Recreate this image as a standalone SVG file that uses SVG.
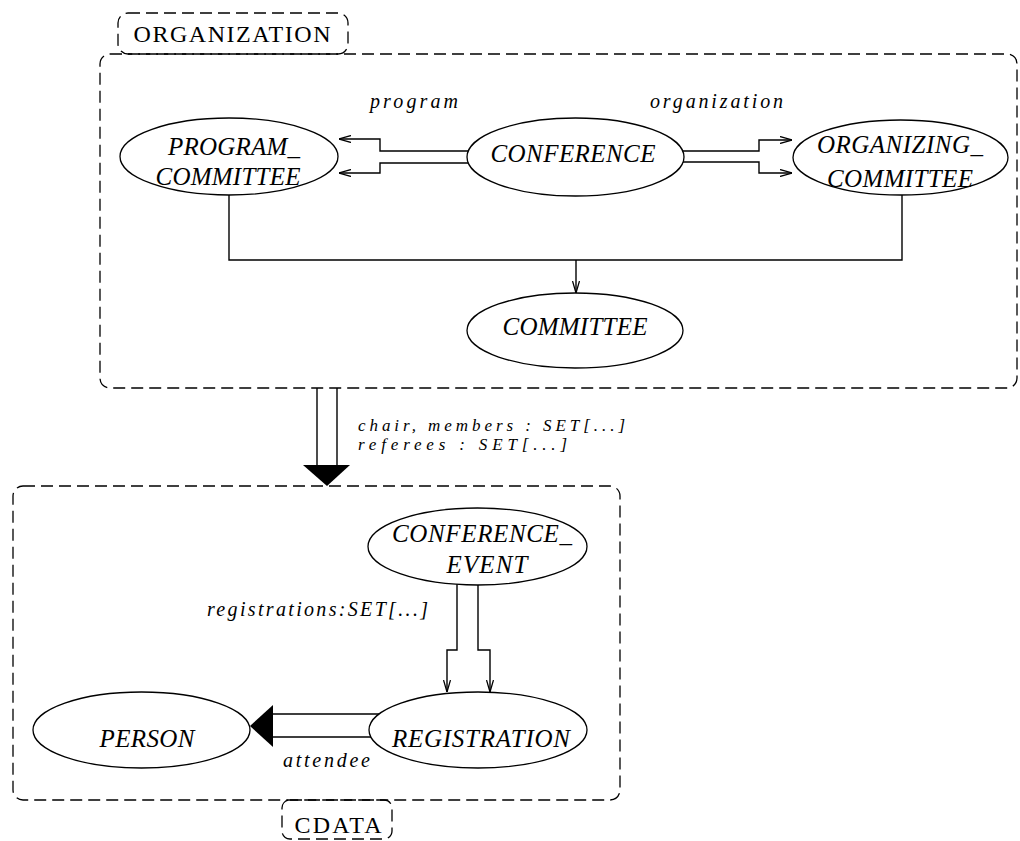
<svg xmlns="http://www.w3.org/2000/svg" width="1020" height="841" viewBox="0 0 1020 841">
<style>
.frame{fill:none;stroke:#000;stroke-width:1.3;stroke-dasharray:12 6}
.node{fill:#fff;stroke:#000;stroke-width:1.3}
.line{fill:none;stroke:#000;stroke-width:1.4}
.nt{font-family:"Liberation Serif",serif;font-style:italic;font-size:25px;fill:#000;text-anchor:middle}
.lb{font-family:"Liberation Serif",serif;font-style:italic;font-size:20px;fill:#000}
.ft{font-family:"Liberation Serif",serif;font-size:24px;fill:#000;text-anchor:middle}
</style>
<defs>
<marker id="open" viewBox="0 0 12 8" refX="12" refY="4" markerWidth="12" markerHeight="8" markerUnits="userSpaceOnUse" orient="auto">
<path d="M0,0.5 L12,4 L0,7.5" fill="none" stroke="#000" stroke-width="1.3"/>
</marker>
</defs>
<rect width="1020" height="841" fill="#fff"/>
<g id="cluster-organization">
<rect class="frame" x="100" y="54" width="917" height="334" rx="10"/>
<rect class="frame" x="118" y="13" width="230" height="41" rx="10"/>
<text class="ft" x="232" y="42" textLength="197" lengthAdjust="spacing">ORGANIZATION</text>
</g>
<g id="cluster-cdata">
<rect class="frame" x="13" y="486" width="607" height="314" rx="10"/>
<rect class="frame" x="282" y="800" width="110" height="39" rx="8"/>
<text class="ft" x="338" y="833" textLength="87" lengthAdjust="spacing">CDATA</text>
</g>
<g id="connectors">
<path class="line" d="M468,151 L380,151 L380,139 L339,139" marker-end="url(#open)"/>
<path class="line" d="M468,163 L380,163 L380,173 L339,173" marker-end="url(#open)"/>
<path class="line" d="M683,151 L759,151 L759,140 L792,140" marker-end="url(#open)"/>
<path class="line" d="M683,162 L759,162 L759,173 L792,173" marker-end="url(#open)"/>
<path class="line" d="M229,195 L229,260 L902,260 L902,195"/>
<path class="line" d="M576,260 L576,293" marker-end="url(#open)"/>
<path class="line" d="M317,388 L317,466 M337,388 L337,466"/>
<polygon points="303,465 350,465 327,486" fill="#000"/>
<path class="line" d="M457,584 L457,650 L447,650 L447,692" marker-end="url(#open)"/>
<path class="line" d="M478,584 L478,650 L490,650 L490,692" marker-end="url(#open)"/>
<path class="line" d="M380,714 L272,714 M371,737 L272,737"/>
<polygon points="273,705 273,747 250,726" fill="#000"/>
<text class="lb" x="370" y="108" textLength="88" lengthAdjust="spacing">program</text>
<text class="lb" x="650" y="108" textLength="133" lengthAdjust="spacing">organization</text>
<text class="lb" style="font-size:17px" x="358" y="431" textLength="267" lengthAdjust="spacing">chair, members : SET[...]</text>
<text class="lb" style="font-size:17px" x="358" y="450" textLength="209" lengthAdjust="spacing">referees : SET[...]</text>
<text class="lb" x="207" y="616" textLength="221" lengthAdjust="spacing">registrations:SET[...]</text>
<text class="lb" x="283" y="767" textLength="87" lengthAdjust="spacing">attendee</text>
</g>
<g id="node-program-committee">
<ellipse class="node" cx="229" cy="156.5" rx="109" ry="38.5"/>
<text class="nt" x="234" y="155" textLength="132" lengthAdjust="spacing">PROGRAM_</text>
<text class="nt" x="228" y="185" textLength="145" lengthAdjust="spacing">COMMITTEE</text>
</g>
<g id="node-conference">
<ellipse class="node" cx="575.5" cy="157" rx="108.5" ry="39"/>
<text class="nt" x="573" y="162" textLength="165" lengthAdjust="spacing">CONFERENCE</text>
</g>
<g id="node-organizing-committee">
<ellipse class="node" cx="900.5" cy="157.5" rx="107.5" ry="37.5"/>
<text class="nt" x="900" y="153" textLength="166" lengthAdjust="spacing">ORGANIZING_</text>
<text class="nt" x="900" y="187" textLength="146" lengthAdjust="spacing">COMMITTEE</text>
</g>
<g id="node-committee">
<ellipse class="node" cx="575" cy="330.5" rx="108" ry="37.5"/>
<text class="nt" x="575" y="335" textLength="145" lengthAdjust="spacing">COMMITTEE</text>
</g>
<g id="node-conference-event">
<ellipse class="node" cx="477.5" cy="546.5" rx="109.5" ry="38.5"/>
<text class="nt" x="482" y="542" textLength="180" lengthAdjust="spacing">CONFERENCE_</text>
<text class="nt" x="487" y="573" textLength="81" lengthAdjust="spacing">EVENT</text>
</g>
<g id="node-registration">
<ellipse class="node" cx="478" cy="730" rx="109" ry="38"/>
<text class="nt" x="481" y="747" textLength="178" lengthAdjust="spacing">REGISTRATION</text>
</g>
<g id="node-person">
<ellipse class="node" cx="141.5" cy="730" rx="108.5" ry="38"/>
<text class="nt" x="147" y="747" textLength="95" lengthAdjust="spacing">PERSON</text>
</g>
</svg>
